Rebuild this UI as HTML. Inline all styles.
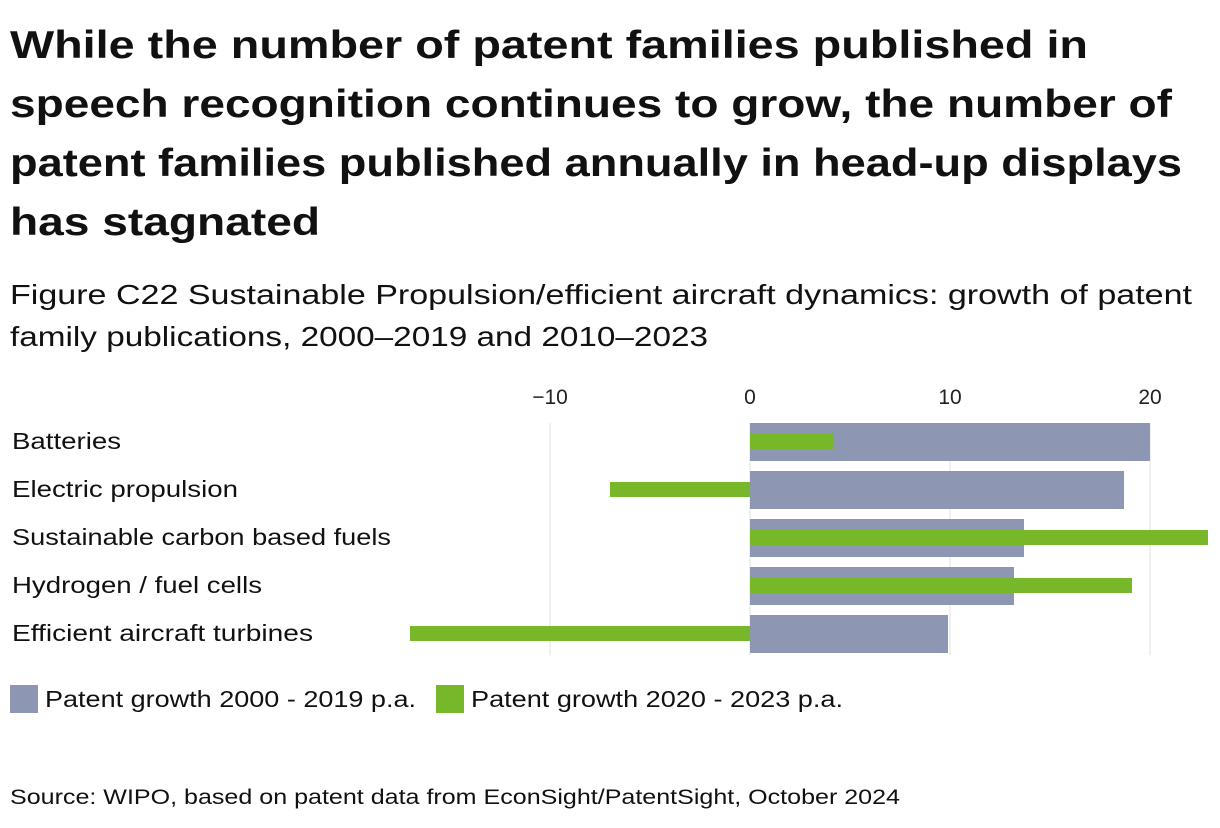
<!DOCTYPE html>
<html><head><meta charset="utf-8"><style>
body{margin:0;width:1220px;height:828px;background:#fff;font-family:"Liberation Sans",sans-serif;color:#111;overflow:hidden;position:relative}
.t{position:absolute;left:10px;top:16px;font-weight:bold;font-size:39px;line-height:59px;white-space:nowrap}
.s{position:absolute;left:10px;top:274px;font-size:28px;line-height:42px;white-space:nowrap}
.src{position:absolute;left:10px;top:786px;font-size:21px;white-space:nowrap}
.ln{display:block;transform-origin:0 50%;width:max-content}
svg{position:absolute;left:0;top:0}
</style></head><body>
<div class="t"><span class="ln" data-w="1078">While the number of patent families published in</span><span class="ln" data-w="1162">speech recognition continues to grow, the number of</span><span class="ln" data-w="1172">patent families published annually in head-up displays</span><span class="ln" data-w="310">has stagnated</span></div>
<div class="s"><span class="ln" data-w="1182">Figure C22 Sustainable Propulsion/efficient aircraft dynamics: growth of patent</span><span class="ln" data-w="698">family publications, 2000–2019 and 2010–2023</span></div>
<svg id="c" width="1220" height="828"></svg>
<div class="src"><span class="ln" data-w="890">Source: WIPO, based on patent data from EconSight/PatentSight, October 2024</span></div>
<script>
const categories=["Batteries","Electric propulsion","Sustainable carbon based fuels","Hydrogen / fuel cells","Efficient aircraft turbines"];
const growth2000=[20,18.7,13.7,13.2,9.9];
const growth2020=[4.2,-7,22.9,19.1,-17];
const ticks=[-10,0,10,20];
const tickLabels=["−10","0","10","20"];
const labelWidths=[109,226,379,250,301];
document.querySelectorAll('.ln').forEach(s=>{const w=s.getBoundingClientRect().width;s.style.transform='scaleX('+(+s.dataset.w/w)+')';});
const NS="http://www.w3.org/2000/svg";
const svg=document.getElementById('c');
const x=v=>750+v*20;
const rowY=i=>423+i*48;
function mk(t,a,p){const e=document.createElementNS(NS,t);for(const k in a)e.setAttribute(k,a[k]);(p||svg).appendChild(e);return e;}
ticks.forEach((t,i)=>{
 const g=mk('line',{x1:x(t),x2:x(t),y1:423,y2:655,stroke:'#e2e2e2','stroke-width':1});
 
 
 const l=mk('text',{x:x(t),y:404,'text-anchor':'middle','font-size':21,fill:'#222'});
 l.textContent=tickLabels[i];
 
 
});
categories.forEach((c,i)=>{
 const y=rowY(i);
 const l=mk('text',{x:12,y:y+26,'font-size':23,fill:'#111',textLength:labelWidths[i],lengthAdjust:'spacingAndGlyphs'});
 l.textContent=c;
 
 
 const a=growth2000[i];
 const b1=mk('rect',{x:Math.min(x(0),x(a)),y:y,width:Math.abs(x(a)-x(0)),height:38,fill:'#8d97b3'});
 
 
 const b=growth2020[i];
 const b2=mk('rect',{x:Math.min(x(0),x(b)),y:y+11,width:Math.abs(x(b)-x(0)),height:15,fill:'#77b82a'});
 
 
});
const leg=[["#8d97b3","Patent growth 2000 - 2019 p.a.",10,371],["#77b82a","Patent growth 2020 - 2023 p.a.",436,372]];
leg.forEach(d=>{
 const r=mk('rect',{x:d[2],y:685,width:28,height:28,fill:d[0]});
 
 
 const t=mk('text',{x:d[2]+35,y:707,'font-size':23,fill:'#111',textLength:d[3],lengthAdjust:'spacingAndGlyphs'});
 t.textContent=d[1];
 
 
});
</script>
</body></html>
